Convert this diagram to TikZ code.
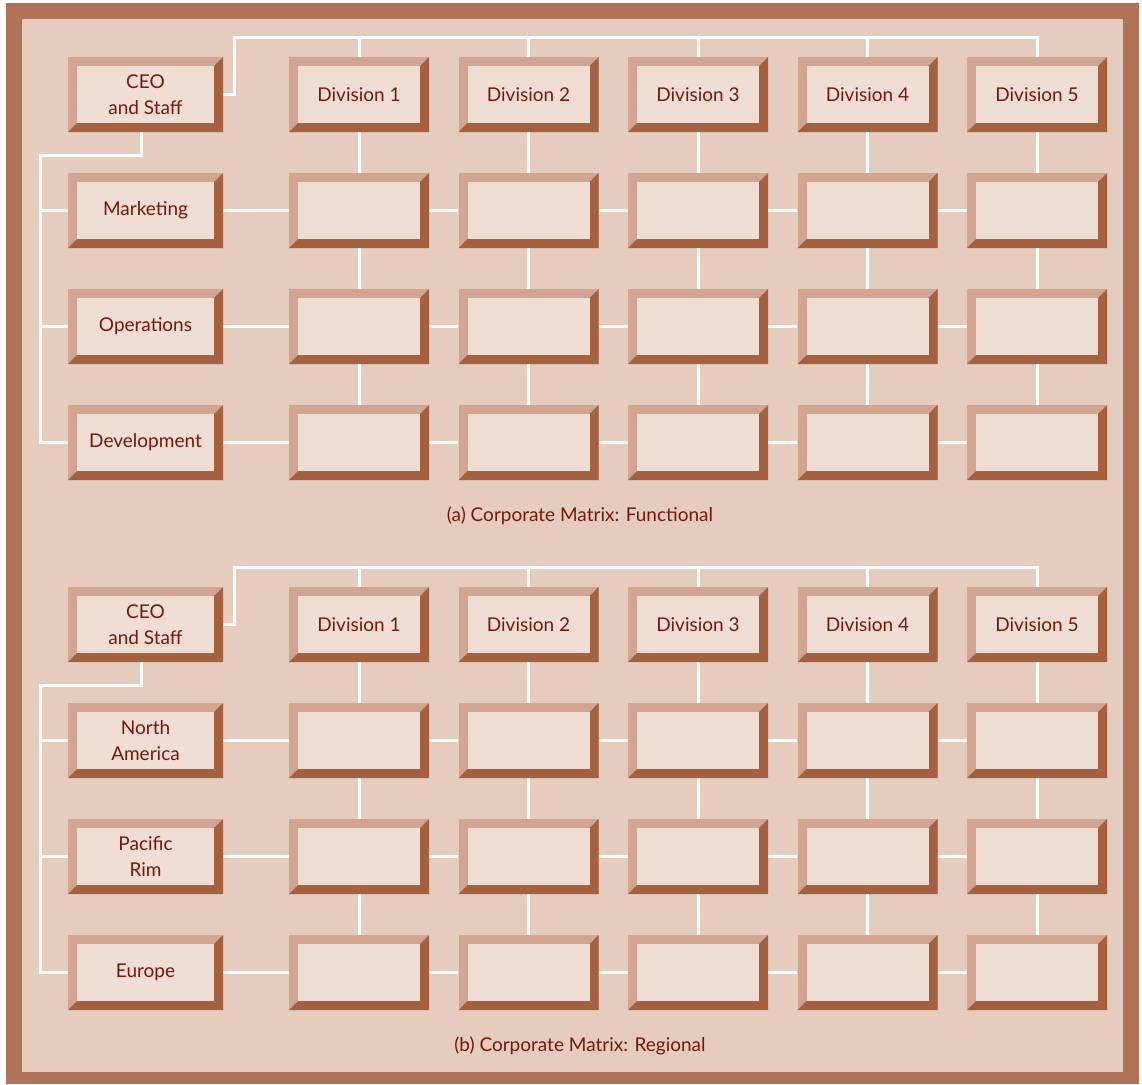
\documentclass[tikz,border=0pt]{standalone}
\usepackage{fontspec}
\setmainfont{Lato}
\definecolor{frame}{HTML}{B07358}
\definecolor{bg}{HTML}{E5CCBF}
\definecolor{bevlight}{HTML}{D3A490}
\definecolor{bevdark}{HTML}{A5603F}
\definecolor{face}{HTML}{F0DDD4}
\definecolor{txt}{HTML}{771808}
\tikzset{
  bevbox/.style={minimum width=#1, minimum height=75pt, inner sep=0pt, fill=bevlight,
    text=txt, align=center, font=\fontsize{19}{26}\selectfont,
    path picture={
      \fill[bevdark] (path picture bounding box.south west) -- (path picture bounding box.south east)
        -- (path picture bounding box.north east) -- ([shift={(-9pt,-9pt)}]path picture bounding box.north east)
        -- ([shift={(-9pt,9pt)}]path picture bounding box.south east) -- ([shift={(9pt,9pt)}]path picture bounding box.south west) -- cycle;
      \fill[face] ([shift={(9pt,9pt)}]path picture bounding box.south west) rectangle ([shift={(-9pt,-9pt)}]path picture bounding box.north east);
    }},
  leftbox/.style={bevbox=155pt},
  divbox/.style={bevbox=140pt},
  wire/.style={draw=white, line width=3pt},
  caption/.style={text=txt, font=\fontsize{19}{22}\selectfont}
}
\begin{document}
\begin{tikzpicture}[x=1pt,y=-1pt]
\useasboundingbox (0,0) rectangle (1142,1084);
\fill[frame] (6,3) rectangle (1139,1084);
\fill[bg] (22,19) rectangle (1123,1072);
\foreach \p/\off/\ra/\rb/\rc/\cap in {a/0/Marketing/Operations/Development/{(a) Corporate Matrix: Functional},
                                   b/530/North\\America/Pacific\\Rim/Europe/{(b) Corporate Matrix: Regional}}{
  % left column
  \node[leftbox] (\p-0-0) at (145.5,94.5+\off) {CEO\\and Staff};
  \node[leftbox] (\p-1-0) at (145.5,210.5+\off) {\ra};
  \node[leftbox] (\p-2-0) at (145.5,326.5+\off) {\rb};
  \node[leftbox] (\p-3-0) at (145.5,442.5+\off) {\rc};
  % division columns
  \foreach \c in {1,...,5}{
    \pgfmathsetmacro{\xx}{359+169.5*(\c-1)}
    \node[divbox] (\p-0-\c) at (\xx,94.5+\off) {Division \c};
    \foreach \r in {1,2,3}{
      \node[divbox] (\p-\r-\c) at (\xx,94.5+116*\r+\off) {};
    }
  }
  \node[caption] (\p-cap) at (580,516+\off) {\cap};
  % connectors
  \coordinate (\p-T) at (234,37+\off);
  \coordinate (\p-L) at (40,155+\off);
  \draw[wire] (\p-0-0.east) -| (\p-T) -| (\p-0-5.north);
  \foreach \c in {1,...,4}{
    \draw[wire] (\p-T -| \p-0-\c.north) -- (\p-0-\c.north);
  }
  \draw[wire] ([xshift=-4pt]\p-0-0.south) |- (\p-L) |- (\p-3-0.west);
  \foreach \r in {1,2}{
    \draw[wire] (\p-L |- \p-\r-0.west) -- (\p-\r-0.west);
  }
  \foreach \r in {1,2,3}{
    \draw[wire] (\p-\r-0.east) -- (\p-\r-1.west);
    \foreach \c/\d in {1/2,2/3,3/4,4/5}{
      \draw[wire] (\p-\r-\c.east) -- (\p-\r-\d.west);
    }
  }
  \foreach \c in {1,...,5}{
    \foreach \r/\s in {0/1,1/2,2/3}{
      \draw[wire] (\p-\r-\c.south) -- (\p-\s-\c.north);
    }
  }
}
\end{tikzpicture}
\end{document}
